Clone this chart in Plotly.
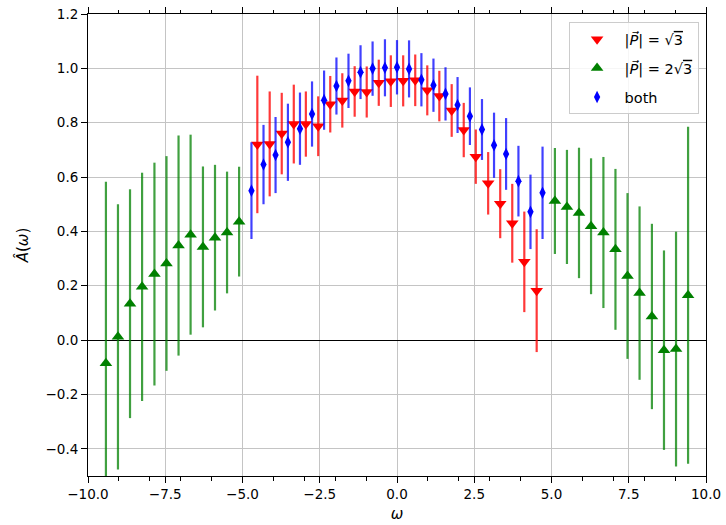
import plotly.graph_objects as go

# Frequencies (omega) and spectral-function estimates with 1-sigma errors
omega_p1 = [-4.52, -4.12, -3.73, -3.34, -2.95, -2.55, -2.16, -1.77, -1.37, -0.98, -0.59, -0.20,
            0.20, 0.59, 0.98, 1.37, 1.77, 2.16, 2.55, 2.95, 3.34, 3.73, 4.12, 4.52]
a_p1 = [0.720, 0.722, 0.760, 0.795, 0.795, 0.787, 0.868, 0.882, 0.915, 0.913, 0.947, 0.953,
        0.954, 0.956, 0.919, 0.898, 0.845, 0.773, 0.675, 0.577, 0.502, 0.430, 0.288, 0.182]
err_p1 = [0.253, 0.193, 0.150, 0.145, 0.120, 0.110, 0.104, 0.100, 0.093, 0.094, 0.085, 0.095,
          0.094, 0.095, 0.092, 0.093, 0.097, 0.100, 0.100, 0.115, 0.127, 0.145, 0.185, 0.226]

omega_p2 = [-9.42, -9.03, -8.64, -8.25, -7.85, -7.46, -7.07, -6.68, -6.28, -5.89, -5.50, -5.11,
            5.11, 5.50, 5.89, 6.28, 6.68, 7.07, 7.46, 7.85, 8.25, 8.64, 9.03, 9.42]
a_p2 = [-0.085, 0.012, 0.134, 0.196, 0.243, 0.282, 0.348, 0.388, 0.343, 0.377, 0.396, 0.436,
        0.512, 0.490, 0.468, 0.419, 0.396, 0.334, 0.236, 0.173, 0.087, -0.037, -0.033, 0.165]
err_p2 = [0.668, 0.488, 0.421, 0.420, 0.410, 0.395, 0.405, 0.368, 0.296, 0.268, 0.224, 0.202,
          0.195, 0.210, 0.240, 0.250, 0.278, 0.296, 0.305, 0.319, 0.341, 0.367, 0.432, 0.620]

omega_both = [-4.71, -4.32, -3.93, -3.53, -3.14, -2.75, -2.36, -1.96, -1.57, -1.18, -0.79, -0.39, 0.0,
              0.39, 0.79, 1.18, 1.57, 1.96, 2.36, 2.75, 3.14, 3.53, 3.93, 4.32, 4.71]
a_both = [0.550, 0.646, 0.681, 0.728, 0.778, 0.832, 0.883, 0.935, 0.954, 0.986, 0.999, 1.002, 1.004,
          0.998, 0.958, 0.938, 0.906, 0.865, 0.824, 0.775, 0.717, 0.685, 0.585, 0.472, 0.542]
err_both = [0.178, 0.146, 0.140, 0.142, 0.133, 0.120, 0.109, 0.105, 0.100, 0.099, 0.100, 0.105, 0.100,
            0.105, 0.098, 0.098, 0.098, 0.103, 0.106, 0.112, 0.120, 0.132, 0.130, 0.137, 0.170]

series_names = ["|<i>P⃗</i>| = √<span style='text-decoration:overline'>3</span>",
                "|<i>P⃗</i>| = 2√<span style='text-decoration:overline'>3</span>",
                "both"]

x_ticks = [-10, -7.5, -5, -2.5, 0, 2.5, 5, 7.5, 10]
x_ticktext = ["−10.0", "−7.5", "−5.0", "−2.5", "0.0", "2.5", "5.0", "7.5", "10.0"]
y_ticks = [-0.4, -0.2, 0.0, 0.2, 0.4, 0.6, 0.8, 1.0, 1.2]
y_ticktext = ["−0.4", "−0.2", "0.0", "0.2", "0.4", "0.6", "0.8", "1.0", "1.2"]

FONT = "DejaVu Sans, Verdana, sans-serif"

fig = go.Figure()


def add_series(x, y, err, name, color, bar_color, symbol, size, group):
    fig.add_trace(go.Scatter(
        x=x, y=y, mode="markers", name=name, legendgroup=group,
        marker=dict(symbol=symbol, size=size, color=color, line=dict(width=0)),
        error_y=dict(type="data", array=err, visible=True, color=bar_color,
                     thickness=2.2, width=0),
    ))


add_series(omega_p1, a_p1, err_p1, series_names[0], "#ff0000", "rgba(255,0,0,0.78)",
           "triangle-down", 11, "g1")
add_series(omega_p2, a_p2, err_p2, series_names[1], "#008000", "rgba(0,128,0,0.75)",
           "triangle-up", 11, "g2")
add_series(omega_both, a_both, err_both, series_names[2], "#0000ff", "rgba(0,0,255,0.75)",
           "diamond-tall", 9, "g3")

axis_common = dict(
    showline=True, linecolor="black", linewidth=1, mirror=True,
    showgrid=True, gridcolor="#c4c4c4", gridwidth=1,
    ticks="outside", tickcolor="black", tickwidth=1, ticklen=6,
    tickfont=dict(family=FONT, size=13.5, color="black"),
)

fig.update_xaxes(
    **axis_common,
    range=[-10, 10], tickvals=x_ticks, ticktext=x_ticktext, zeroline=False,
    title=dict(text="<i>ω</i>", font=dict(family=FONT, size=15, color="black"), standoff=7),
)
fig.update_xaxes(mirror="ticks",
                 minor=dict(dtick=1, tick0=0, ticks="outside", ticklen=3.5, tickcolor="black",
                            showgrid=False))
fig.update_yaxes(
    **axis_common,
    range=[-0.5, 1.2], tickvals=y_ticks, ticktext=y_ticktext,
    zeroline=True, zerolinecolor="black", zerolinewidth=1.2,
    title=dict(text="<i>Â</i>(<i>ω</i>)", font=dict(family=FONT, size=15, color="black"),
               standoff=13),
)

fig.update_layout(
    width=726, height=525,
    margin=dict(l=88, r=20, t=14, b=49, autoexpand=False),
    paper_bgcolor="white", plot_bgcolor="white",
    font=dict(family=FONT, size=13, color="black"),
    legend=dict(x=0.988, y=0.982, xanchor="right", yanchor="top",
                bgcolor="rgba(255,255,255,0.85)", bordercolor="#cccccc", borderwidth=1,
                font=dict(family=FONT, size=14.5, color="black"),
                tracegroupgap=7, itemwidth=45),
    showlegend=True,
)

fig.write_html("out.html")
